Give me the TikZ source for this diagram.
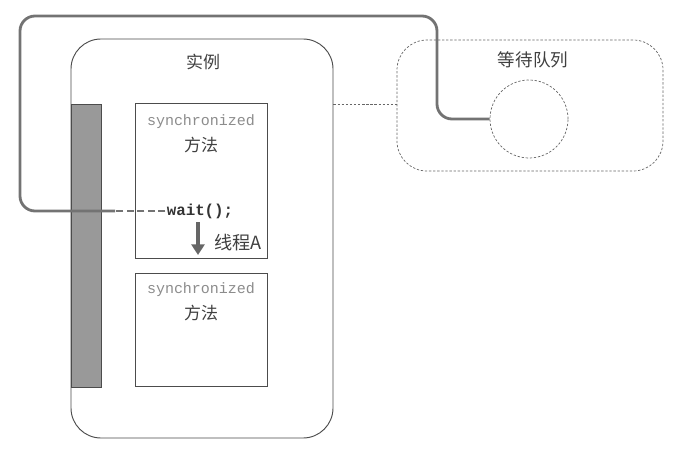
\documentclass[tikz,border=0pt]{standalone}
\usepackage{fontspec}
\setmonofont{Liberation Mono}
\newfontfamily\cjk{Noto Sans CJK SC}
\usetikzlibrary{arrows.meta, positioning}

\begin{document}
\begin{tikzpicture}[
        x=0.03cm, y=-0.03cm,
        caixa/.style={draw=black!70, line width=0.8pt, fill=white},
        arredondada/.style={caixa, rounded corners=0.9cm},
        rotulo/.style={font=\cjk\fontsize{14.5}{16}\selectfont, text=black!75, inner sep=1pt},
        codigo/.style={font=\ttfamily\fontsize{12.8}{14}\selectfont, text=black!45, inner sep=1pt},
        pontilhado/.style={draw=black!60, line width=0.6pt, dash pattern=on 2pt off 1.5pt},
        caminho/.style={draw=black!55, line width=2.4pt, rounded corners=0.45cm},
        seta/.style={draw=black!60, line width=2.6pt, -{Triangle[length=9pt, width=11pt]}}
    ]
    \useasboundingbox (0,0) rectangle (680,453);

    % Instancia com os dois metodos
    \node[arredondada, minimum width=7.86cm, minimum height=11.97cm] (instancia) at (202,238.5) {};
    \node[rotulo] (titulo) at (203,62) {实例};
    \node[caixa, fill=black!40, minimum width=0.9cm, minimum height=8.49cm] (barra) at (86,245.5) {};

    \node[caixa, minimum width=3.96cm, minimum height=4.65cm] (metodoA) at (201,180.5) {};
    \node[codigo] (syncA) at (201,122) {synchronized};
    \node[rotulo] (nomeA) at (201,145) {方法};

    \node[caixa, minimum width=3.96cm, minimum height=3.39cm] (metodoB) at (201,329.5) {};
    \node[codigo] (syncB) at (201,290) {synchronized};
    \node[rotulo] (nomeB) at (201,313) {方法};

    % Fila de espera
    \node[arredondada, pontilhado, minimum width=7.98cm, minimum height=3.93cm] (fila) at (530,105.5) {};
    \node[rotulo, font=\cjk\fontsize{15}{17}\selectfont] (tituloFila) at (533,60) {等待队列};
    \node[circle, pontilhado, minimum size=2.34cm] (circulo) at (529,119) {};

    \draw[pontilhado] (instancia.east |- 0,104) -- (fila.west |- 0,104);

    % Chamada de wait
    \node[font=\ttfamily\bfseries\fontsize{13.5}{15}\selectfont, text=black!80, inner sep=1pt] (espera) at (200,211) {wait();};
    \coordinate (quebra) at (115,211);
    \draw[caminho, dash pattern=on 6pt off 3pt, rounded corners=0pt] (espera.west) -- (quebra);
    \draw[caminho] (quebra) -- (20,211) -- (20,16) -- (437,16) |- (circulo.west);

    % Thread A descendo
    \coordinate (topoSeta) at (198,222);
    \coordinate (fimSeta) at (198,255);
    \draw[seta] (topoSeta) -- (fimSeta);
    \node[rotulo, font=\cjk\fontsize{15.5}{17}\selectfont, anchor=west] (thread) at (213,243) {线程A};
\end{tikzpicture}
\end{document}
